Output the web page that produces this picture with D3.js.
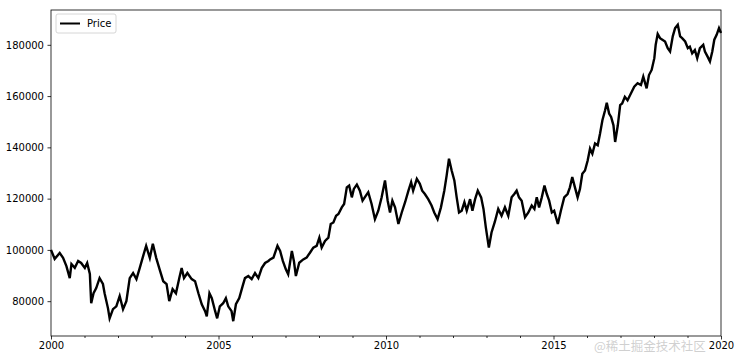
<!DOCTYPE html>
<html>
<head>
<meta charset="utf-8">
<script src="https://cdn.jsdelivr.net/npm/d3@7"></script>
<style>
  body { margin: 0; background: #fff; }
  svg { display: block; font-family: "DejaVu Sans", sans-serif; }
</style>
</head>
<body>
<div id="chart"></div>
<script>
const width = 738;
const height = 358;
const margin = { top: 10, right: 17, bottom: 22, left: 51 };

// decimal year of each reading
const years = [
  2000.00, 2000.11, 2000.26, 2000.36, 2000.46, 2000.56, 2000.61, 2000.71, 2000.81, 2000.90,
  2001.01, 2001.08, 2001.16, 2001.20, 2001.27, 2001.35, 2001.45, 2001.55, 2001.60, 2001.70,
  2001.75, 2001.85, 2001.95, 2002.05, 2002.15, 2002.25, 2002.35, 2002.45, 2002.55, 2002.65,
  2002.75, 2002.84, 2002.95, 2003.04, 2003.14, 2003.24, 2003.35, 2003.45, 2003.53, 2003.63,
  2003.73, 2003.83, 2003.90, 2003.97, 2004.07, 2004.20, 2004.30, 2004.40, 2004.50, 2004.60,
  2004.65, 2004.73, 2004.80, 2004.90, 2004.96, 2005.04, 2005.14, 2005.22, 2005.29, 2005.39,
  2005.44, 2005.52, 2005.62, 2005.72, 2005.79, 2005.89, 2005.99, 2006.09, 2006.19, 2006.29,
  2006.39, 2006.49, 2006.54, 2006.64, 2006.76, 2006.84, 2006.92, 2007.01, 2007.08, 2007.19,
  2007.25, 2007.31, 2007.41, 2007.53, 2007.63, 2007.73, 2007.83, 2007.93, 2008.01, 2008.08,
  2008.18, 2008.28, 2008.35, 2008.43, 2008.51, 2008.58, 2008.68, 2008.75, 2008.83, 2008.90,
  2008.98, 2009.04, 2009.13, 2009.22, 2009.30, 2009.40, 2009.47, 2009.57, 2009.67, 2009.77,
  2009.87, 2009.97, 2010.05, 2010.12, 2010.19, 2010.27, 2010.37, 2010.47, 2010.57, 2010.67,
  2010.75, 2010.81, 2010.92, 2011.01, 2011.08, 2011.16, 2011.26, 2011.36, 2011.44, 2011.54,
  2011.64, 2011.74, 2011.81, 2011.88, 2011.96, 2012.04, 2012.11, 2012.18, 2012.26, 2012.34,
  2012.41, 2012.51, 2012.58, 2012.66, 2012.74, 2012.84, 2012.91, 2012.98, 2013.07, 2013.15,
  2013.25, 2013.35, 2013.45, 2013.55, 2013.65, 2013.75, 2013.83, 2013.90, 2013.97, 2014.05,
  2014.15, 2014.25, 2014.35, 2014.43, 2014.50, 2014.57, 2014.65, 2014.73, 2014.80, 2014.87,
  2014.95, 2015.02, 2015.13, 2015.22, 2015.32, 2015.42, 2015.49, 2015.56, 2015.64, 2015.72,
  2015.79, 2015.86, 2015.94, 2016.02, 2016.09, 2016.16, 2016.24, 2016.32, 2016.39, 2016.46,
  2016.54, 2016.59, 2016.66, 2016.72, 2016.79, 2016.84, 2016.92, 2016.99, 2017.05, 2017.13,
  2017.21, 2017.31, 2017.41, 2017.51, 2017.61, 2017.68, 2017.78, 2017.85, 2017.93, 2018.01,
  2018.05, 2018.11, 2018.18, 2018.25, 2018.33, 2018.41, 2018.48, 2018.56, 2018.63, 2018.71,
  2018.78, 2018.84, 2018.93, 2019.01, 2019.07, 2019.14, 2019.22, 2019.29, 2019.37, 2019.47,
  2019.52, 2019.60, 2019.67, 2019.74, 2019.80, 2019.87, 2019.94, 2020.00,
];

const prices = [
  100000, 96500, 98800, 96900, 93700, 89000, 94500, 93000, 95700, 94900,
  93000, 94900, 90600, 79200, 83100, 85100, 89000, 86700, 83100, 77300,
  73300, 76900, 78000, 82000, 76900, 80000, 89000, 91000, 88600, 93000,
  97600, 101600, 96900, 102400, 96900, 92500, 87800, 86700, 80000, 84700,
  83100, 89000, 92900, 89000, 91000, 88600, 87800, 83100, 78800, 76100,
  74100, 83100, 81200, 76100, 73300, 78000, 79200, 81200, 78000, 76100,
  72200, 78800, 81200, 85900, 89000, 89800, 88600, 91000, 89000, 92900,
  94900, 95700, 96300, 97000, 101600, 99600, 95700, 92400, 90500, 99600,
  95700, 89800, 95000, 96300, 97000, 98900, 100900, 101600, 104800, 100900,
  103500, 104800, 110100, 110700, 113300, 114000, 116600, 117900, 124400, 125100,
  120500, 123800, 125500, 123100, 119200, 121200, 122500, 117900, 112000, 115300,
  120500, 127100, 119200, 114600, 119200, 116600, 110100, 114600, 118600, 123100,
  126400, 123100, 127700, 125800, 123100, 121800, 119800, 117300, 114600, 112000,
  116600, 123100, 129000, 135600, 131000, 127100, 120500, 114600, 115300, 118600,
  115300, 119800, 115300, 119800, 123100, 120500, 116000, 108800, 100900, 106800,
  111000, 116000, 113300, 116600, 113300, 120500, 121800, 123100, 120500, 119200,
  112700, 114600, 117300, 116000, 120500, 116600, 120500, 125100, 121800, 119200,
  114600, 115300, 110100, 115300, 120500, 121800, 124400, 128400, 124400, 120500,
  123800, 129700, 131000, 134900, 139500, 137500, 141500, 140800, 145400, 150600,
  154500, 157400, 153200, 151900, 148600, 142100, 148600, 156500, 157100, 159700,
  158400, 161000, 163700, 165000, 164300, 167600, 163000, 168200, 170200, 174800,
  180000, 184200, 182600, 182000, 181300, 178700, 177400, 183300, 186500, 187800,
  183300, 182600, 181300, 178700, 179300, 176700, 178000, 174800, 178700, 180000,
  177400, 175400, 173500, 177400, 182000, 183900, 186500, 184600,
];

const yTicks = [80000, 100000, 120000, 140000, 160000, 180000];
const xMajor = [2000, 2005, 2010, 2015, 2020];
const seriesName = "Price";
const watermark = "@稀土掘金技术社区";

const data = years.map((t, i) => ({ t, v: prices[i] }));

const svg = d3
  .select("#chart")
  .append("svg")
  .attr("width", width)
  .attr("height", height)
  .attr("viewBox", `0 0 ${width} ${height}`);

const x = d3
  .scaleLinear()
  .domain([2000, 2020])
  .range([margin.left, width - margin.right]);

// matplotlib style 5% padding around the data
const [lo, hi] = d3.extent(prices);
const pad = (hi - lo) * 0.05;
const y = d3
  .scaleLinear()
  .domain([lo - pad, hi + pad])
  .range([height - margin.bottom, margin.top]);

const line = d3
  .line()
  .x((d) => x(d.t))
  .y((d) => y(d.v));

// watermark sits under the axis labels
svg
  .append("text")
  .attr("x", 594)
  .attr("y", 351)
  .attr("font-size", 12.5)
  .attr("font-family", "Noto Sans CJK SC")
  .attr("fill", "#c8c8c8")
  .attr("fill-opacity", 0.85)
  .text(watermark);

svg
  .append("path")
  .datum(data)
  .attr("fill", "none")
  .attr("stroke", "#000")
  .attr("stroke-width", 2.4)
  .attr("stroke-linejoin", "miter")
  .attr("d", line);

// y axis
const yAxis = svg
  .append("g")
  .attr("transform", `translate(${margin.left},0)`)
  .call(d3.axisLeft(y).tickValues(yTicks).tickFormat(d3.format("d")).tickSize(3.5).tickPadding(3.5));

// x axis: labelled every 5 years, minor ticks every year
const xAxis = svg
  .append("g")
  .attr("transform", `translate(0,${height - margin.bottom})`)
  .call(d3.axisBottom(x).tickValues(xMajor).tickFormat(d3.format("d")).tickSize(3.5).tickPadding(2));

svg
  .append("g")
  .attr("transform", `translate(0,${height - margin.bottom})`)
  .call(
    d3
      .axisBottom(x)
      .tickValues(d3.range(2001, 2020).filter((d) => d % 5 !== 0))
      .tickFormat("")
      .tickSize(2)
  )
  .call((g) => g.select(".domain").remove());

svg.selectAll(".tick text").attr("font-size", 10).attr("fill", "#000").attr("font-family", "DejaVu Sans");
svg.selectAll(".tick line").attr("stroke", "#000").attr("stroke-width", 0.8);
yAxis.select(".domain").remove();
xAxis.select(".domain").remove();

// frame
svg
  .append("rect")
  .attr("x", margin.left)
  .attr("y", margin.top)
  .attr("width", width - margin.left - margin.right)
  .attr("height", height - margin.top - margin.bottom)
  .attr("fill", "none")
  .attr("stroke", "#000")
  .attr("stroke-width", 0.8);

// legend
const legend = svg.append("g").attr("transform", `translate(${margin.left + 5},${margin.top + 4})`);

legend
  .append("rect")
  .attr("width", 60)
  .attr("height", 19)
  .attr("rx", 2)
  .attr("fill", "#fff")
  .attr("fill-opacity", 0.8)
  .attr("stroke", "#ccc")
  .attr("stroke-width", 0.8);

legend
  .append("line")
  .attr("x1", 4)
  .attr("x2", 24)
  .attr("y1", 9.5)
  .attr("y2", 9.5)
  .attr("stroke", "#000")
  .attr("stroke-width", 2);

legend
  .append("text")
  .attr("x", 31)
  .attr("y", 13)
  .attr("font-size", 10)
  .text(seriesName);
</script>
</body>
</html>
